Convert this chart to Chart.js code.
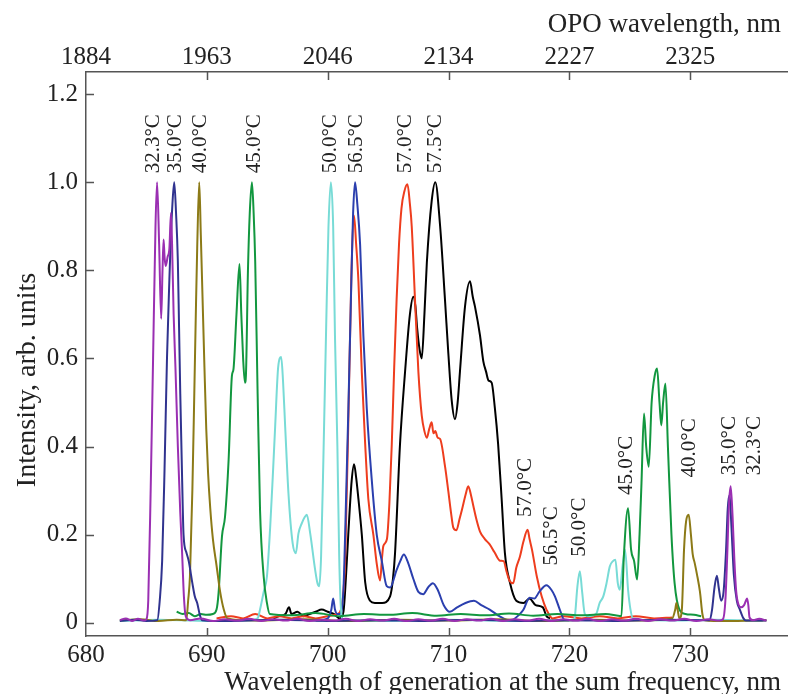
<!DOCTYPE html>
<html>
<head>
<meta charset="utf-8">
<script src="https://cdn.jsdelivr.net/npm/chart.js@4.4.1/dist/chart.umd.min.js"></script>
<style>
  body { margin: 0; background: #fff; }
</style>
</head>
<body>
<canvas id="grafico" width="790" height="694"></canvas>
<script>
// tick values and labels
const xTicks = [680, 690, 700, 710, 720, 730];
const opoLabels = ['1884', '1963', '2046', '2134', '2227', '2325'];
const yTicks = [0, 0.2, 0.4, 0.6, 0.8, 1.0, 1.2];

// spectra, [wavelength nm, intensity]
const s323 = [[682.8,.006],[683.3,.01],[683.8,.004],[684.3,.009],[684.8,.005],[685.0,.008],[685.15,.05],[685.35,.3],[685.55,.6],[685.75,.9],[685.88,1.0],[686.05,.86],[686.22,.69],[686.33,.8],[686.42,.87],[686.5,.83],[686.6,.81],[686.75,.83],[686.9,.85],[687.03,.93],[687.12,.86],[687.25,.7],[687.4,.58],[687.6,.4],[687.8,.25],[687.95,.16],[688.1,.06],[688.25,.015],[688.6,.006],[689.5,.01],[690.5,.004],[691.5,.008],[692.5,.005],[693.5,.009],[694.5,.004],[695.5,.008],[696.5,.005],[697.5,.009],[698.5,.004],[699.5,.007],[700.5,.005],[701.5,.009],[702.5,.004],[703.5,.008],[704.5,.005],[705.5,.009],[706.5,.004],[707.5,.008],[708.5,.005],[709.5,.009],[710.5,.004],[711.5,.008],[712.5,.005],[713.5,.009],[714.5,.004],[715.5,.008],[716.5,.005],[717.5,.009],[718.5,.004],[719.5,.008],[720.5,.005],[721.5,.009],[722.5,.004],[723.5,.008],[724.5,.005],[725.5,.009],[726.5,.004],[727.5,.008],[728.5,.005],[729.5,.009],[730.5,.004],[731.5,.008],[732.4,.005],[732.7,.008],[732.9,.05],[733.05,.15],[733.2,.27],[733.34,.31],[733.5,.24],[733.65,.14],[733.8,.07],[734.0,.04],[734.2,.035],[734.45,.04],[734.6,.05],[734.7,.055],[734.8,.04],[734.9,.012],[735.2,.006],[735.7,.009],[736.3,.005]];
const s350 = [[682.8,.004],[684.0,.007],[685.0,.004],[685.9,.006],[686.1,.05],[686.3,.14],[686.5,.35],[686.7,.6],[686.9,.78],[687.0,.86],[687.15,.95],[687.3,1.0],[687.45,.93],[687.6,.82],[687.7,.67],[687.8,.52],[687.95,.33],[688.07,.2],[688.3,.16],[688.5,.14],[688.8,.09],[689.0,.06],[689.2,.045],[689.4,.02],[689.6,.006],[692,.004],[696,.007],[700,.004],[704,.006],[708,.004],[712,.007],[716,.004],[720,.006],[724,.004],[728,.007],[731.6,.006],[731.8,.03],[732.0,.08],[732.2,.107],[732.35,.08],[732.55,.05],[732.75,.07],[732.95,.16],[733.1,.26],[733.25,.29],[733.4,.22],[733.6,.11],[733.85,.05],[734.1,.03],[734.4,.01],[734.6,.005],[736.3,.005]];
const s400 = [[682.8,.005],[684.5,.008],[686.0,.004],[687.5,.007],[688.3,.006],[688.45,.05],[688.6,.105],[688.8,.3],[688.96,.52],[689.1,.72],[689.2,.85],[689.37,1.0],[689.5,.88],[689.64,.74],[689.8,.58],[689.95,.44],[690.1,.34],[690.28,.26],[690.5,.19],[690.8,.13],[691.1,.07],[691.4,.03],[691.7,.01],[694,.005],[698,.008],[702,.004],[706,.007],[710,.005],[714,.008],[718,.004],[722,.007],[726,.005],[728.5,.01],[728.75,.03],[728.85,.045],[728.95,.03],[729.1,.01],[729.3,.03],[729.48,.166],[729.65,.23],[729.87,.245],[730.05,.2],[730.2,.155],[730.36,.136],[730.55,.11],[730.8,.07],[731.0,.02],[731.2,.006],[733,.004],[736.3,.006]];
const s450 = [[687.5,.025],[688.0,.02],[688.5,.022],[689.0,.015],[689.5,.02],[690.0,.018],[690.5,.02],[690.8,.03],[690.97,.068],[691.25,.196],[691.5,.24],[691.8,.37],[692.07,.56],[692.2,.575],[692.45,.7],[692.7,.814],[692.85,.7],[693.0,.6],[693.15,.545],[693.23,.56],[693.4,.8],[693.55,.93],[693.73,1.0],[693.87,.93],[694.0,.82],[694.2,.52],[694.4,.256],[694.7,.105],[694.97,.045],[695.2,.02],[697,.017],[699,.022],[701,.015],[703,.02],[705,.018],[707,.022],[709,.016],[711,.02],[713,.017],[715,.021],[717,.016],[719,.02],[721,.017],[723,.02],[724.3,.015],[724.5,.15],[724.85,.26],[725.1,.166],[725.35,.14],[725.6,.098],[725.8,.2],[725.96,.317],[726.17,.475],[726.35,.4],[726.56,.354],[726.8,.5],[727.05,.56],[727.25,.577],[727.45,.5],[727.6,.448],[727.75,.5],[727.94,.543],[728.16,.39],[728.44,.2],[728.7,.09],[729.1,.03],[729.6,.02],[730.3,.018],[730.9,.015]];
const s500 = [[682.8,.004],[686,.007],[690,.004],[693.5,.006],[694.2,.01],[694.4,.03],[694.7,.07],[694.97,.105],[695.24,.218],[695.45,.33],[695.65,.445],[695.9,.58],[696.15,.603],[696.3,.55],[696.48,.445],[696.75,.294],[697.1,.18],[697.36,.158],[697.58,.203],[697.86,.226],[698.1,.24],[698.27,.245],[698.55,.203],[698.96,.12],[699.15,.09],[699.3,.083],[699.45,.15],[699.64,.37],[699.87,.67],[700.06,.897],[700.26,1.0],[700.45,.9],[700.6,.65],[700.8,.4],[700.95,.15],[701.1,.03],[701.3,.006],[705,.004],[710,.007],[715,.004],[720.3,.006],[720.45,.015],[720.65,.08],[720.86,.117],[721.05,.07],[721.27,.02],[721.6,.015],[722.2,.02],[722.5,.045],[722.8,.06],[723.07,.09],[723.34,.128],[723.6,.14],[723.8,.143],[724.0,.09],[724.17,.075],[724.4,.13],[724.6,.166],[724.85,.075],[725.05,.03],[725.26,.01],[728,.005],[732,.007],[736,.004]];
const s565 = [[699.0,.005],[700.0,.01],[700.3,.03],[700.45,.055],[700.6,.03],[700.8,.02],[701.0,.02],[701.3,.075],[701.44,.2],[701.71,.487],[701.99,.817],[702.1,.93],[702.26,1.0],[702.45,.95],[702.68,.858],[702.95,.652],[703.23,.487],[703.65,.322],[704.06,.199],[704.47,.141],[704.88,.083],[705.16,.08],[705.7,.12],[706.0,.14],[706.3,.155],[706.6,.14],[707.08,.1],[707.5,.07],[707.9,.065],[708.3,.08],[708.7,.09],[709.1,.075],[709.6,.04],[710.1,.025],[710.7,.035],[711.4,.045],[712.1,.05],[712.7,.04],[713.4,.03],[714.2,.015],[715.1,.005],[715.9,.02],[716.2,.03],[716.7,.057],[717.1,.055],[717.5,.07],[718.1,.085],[718.5,.075],[718.8,.06],[719.2,.03],[719.6,.006],[720.0,.005]];
const s570 = [[690.8,.01],[692,.015],[693,.01],[694,.02],[695,.01],[696,.015],[697,.01],[698,.015],[699,.01],[700,.015],[700.8,.02],[701.1,.03],[701.3,.07],[701.44,.14],[701.7,.45],[701.95,.78],[702.18,.924],[702.35,.86],[702.54,.775],[702.82,.568],[703.1,.405],[703.36,.281],[703.78,.199],[704.06,.133],[704.33,.096],[704.5,.15],[704.6,.174],[704.9,.19],[705.1,.27],[705.3,.405],[705.5,.58],[705.7,.734],[705.9,.86],[706.1,.94],[706.35,.98],[706.6,.995],[706.8,.95],[706.95,.9],[707.22,.734],[707.5,.57],[707.78,.47],[708.0,.435],[708.2,.42],[708.4,.44],[708.6,.455],[708.75,.43],[708.9,.435],[709.1,.42],[709.3,.417],[709.7,.356],[709.98,.298],[710.2,.25],[710.39,.216],[710.65,.21],[710.9,.235],[711.1,.256],[711.4,.29],[711.63,.31],[711.85,.29],[712.05,.265],[712.3,.235],[712.6,.207],[713.0,.19],[713.4,.178],[713.8,.16],[714.25,.141],[714.55,.14],[714.8,.116],[715.05,.095],[715.35,.09],[715.6,.125],[715.9,.15],[716.2,.185],[716.54,.211],[716.7,.19],[716.9,.166],[717.3,.105],[717.7,.06],[718.1,.03],[718.6,.01],[719.5,.015],[721,.01],[722.5,.015],[724,.01],[725.5,.015],[727,.01],[728.5,.012]];
const s575 = [[695.5,.01],[696,.015],[696.5,.02],[696.8,.035],[697,.02],[697.5,.025],[698,.015],[698.5,.02],[699,.025],[699.5,.03],[700,.025],[700.5,.02],[701.0,.01],[701.3,.025],[701.5,.1],[701.7,.2],[701.98,.322],[702.18,.36],[702.35,.33],[702.54,.281],[702.82,.2],[703.1,.092],[703.5,.05],[703.9,.045],[704.5,.045],[705.16,.06],[705.4,.1],[705.57,.158],[705.98,.405],[706.4,.57],[706.8,.7],[707.08,.74],[707.25,.72],[707.4,.668],[707.6,.62],[707.78,.6],[708.0,.7],[708.2,.817],[708.6,.957],[708.9,1.0],[709.3,.9],[709.7,.734],[709.98,.611],[710.26,.504],[710.53,.462],[710.75,.5],[710.94,.57],[711.36,.718],[711.77,.775],[712.0,.74],[712.18,.718],[712.6,.652],[712.87,.594],[713.1,.57],[713.3,.55],[713.56,.545],[713.83,.487],[714.1,.405],[714.39,.281],[714.66,.158],[715.07,.092],[715.6,.05],[716.2,.045],[716.7,.055],[717.2,.04],[717.8,.035],[718.1,.015],[718.4,.01]];

// temperature labels next to the peaks
const labelTexts = ['32.3°C','35.0°C','40.0°C','45.0°C','50.0°C','56.5°C','57.0°C','57.5°C',
                    '57.0°C','56.5°C','50.0°C','45.0°C','40.0°C','35.0°C','32.3°C'];
const labelX = [685.55, 687.4, 689.45, 693.9, 700.2, 702.35, 706.4, 708.95,
                716.4, 718.55, 720.85, 724.75, 729.9, 733.2, 735.3];
const labelY = [1.02, 1.02, 1.02, 1.02, 1.02, 1.02, 1.02, 1.02,
                0.24, 0.13, 0.15, 0.29, 0.33, 0.335, 0.335];

const serie = (dados, cor) => ({
    data: dados.map(p => ({ x: p[0], y: p[1] })),
    borderColor: cor,
    borderWidth: 2,
    pointRadius: 0,
    fill: false,
    cubicInterpolationMode: 'monotone'
});

const FONTE = '"Liberation Serif", "Times New Roman", serif';

const rotulos = {
    id: 'rotulos',
    afterDraw(chart) {
        const ctx = chart.ctx;
        const x = chart.scales.x, y = chart.scales.y;
        const area = chart.chartArea;
        ctx.save();
        ctx.fillStyle = '#222';

        // inward tick marks
        ctx.strokeStyle = '#555';
        ctx.lineWidth = 1.5;
        ctx.beginPath();
        yTicks.forEach(v => {
            const py = Math.round(y.getPixelForValue(v)) + 0.5;
            ctx.moveTo(area.left, py); ctx.lineTo(area.left + 8, py);
        });
        xTicks.slice(1).forEach(v => {
            const px = Math.round(x.getPixelForValue(v)) + 0.5;
            ctx.moveTo(px, area.bottom); ctx.lineTo(px, area.bottom - 8);
            ctx.moveTo(px, area.top); ctx.lineTo(px, area.top + 8);
        });
        ctx.stroke();

        // temperature labels
        ctx.font = '21px ' + FONTE;
        ctx.textAlign = 'left';
        ctx.textBaseline = 'middle';
        labelTexts.forEach((t, i) => {
            ctx.save();
            ctx.translate(x.getPixelForValue(labelX[i]), y.getPixelForValue(labelY[i]));
            ctx.rotate(-Math.PI / 2);
            ctx.fillText(t, 0, 0);
            ctx.restore();
        });

        // axis titles
        ctx.font = '27px ' + FONTE;
        ctx.textAlign = 'right';
        ctx.fillText('Wavelength of generation at the sum frequency, nm', 781, 683);
        ctx.fillText('OPO wavelength, nm', 781, 25);
        ctx.save();
        ctx.translate(28, 380);
        ctx.rotate(-Math.PI / 2);
        ctx.textAlign = 'center';
        ctx.font = '28px ' + FONTE;
        ctx.fillText('Intensity, arb. units', 0, 0);
        ctx.restore();

        ctx.restore();
    }
};

const eixo = { color: '#555', width: 1.5 };
const fonteTicks = { family: FONTE, size: 25 };

new Chart(document.getElementById('grafico'), {
    type: 'line',
    data: {
        datasets: [
            serie(s323, '#9a2fb2'),
            serie(s350, '#30338f'),
            serie(s400, '#8c7a17'),
            serie(s450, '#12973f'),
            serie(s500, '#78dbd6'),
            serie(s565, '#2b3fae'),
            serie(s570, '#ee3d1e'),
            serie(s575, '#000000')
        ]
    },
    options: {
        responsive: false,
        animation: false,
        layout: { padding: { right: 3 } },
        plugins: { legend: { display: false }, tooltip: { enabled: false } },
        scales: {
            x: {
                type: 'linear', position: 'bottom', min: 680, max: 738,
                afterBuildTicks: s => { s.ticks = xTicks.map(v => ({ value: v })); },
                afterFit: s => { s.height = 58; },
                grid: { display: false, drawTicks: false },
                border: eixo,
                ticks: { font: fonteTicks, color: '#222', padding: 4, maxRotation: 0 }
            },
            x2: {
                type: 'linear', position: 'top', min: 680, max: 738,
                afterBuildTicks: s => { s.ticks = xTicks.map(v => ({ value: v })); },
                afterFit: s => { s.height = 72; },
                grid: { display: false, drawTicks: false },
                border: eixo,
                ticks: {
                    font: fonteTicks, color: '#222', padding: 0, maxRotation: 0,
                    callback: v => opoLabels[xTicks.indexOf(v)]
                }
            },
            y: {
                min: -0.03, max: 1.25,
                afterBuildTicks: s => { s.ticks = yTicks.map(v => ({ value: v })); },
                afterFit: s => { s.width = 86; },
                grid: { display: false, drawTicks: false },
                border: eixo,
                ticks: {
                    font: fonteTicks, color: '#222', padding: 8,
                    callback: v => v === 0 ? '0' : v.toFixed(1)
                }
            }
        }
    },
    plugins: [rotulos]
});
</script>
</body>
</html>
